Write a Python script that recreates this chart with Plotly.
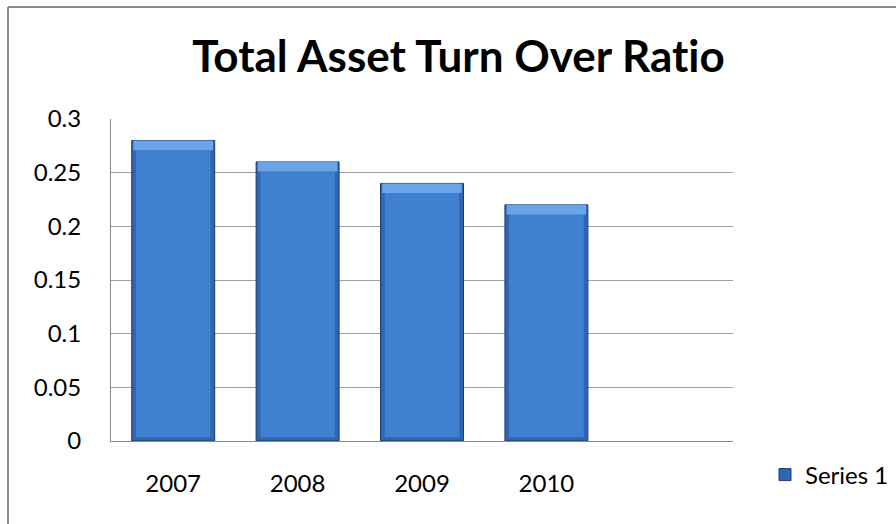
import plotly.graph_objects as go

# Data
years = ["2007", "2008", "2009", "2010"]
ratio = [0.28, 0.26, 0.24, 0.22]
y_ticks = [0, 0.05, 0.1, 0.15, 0.2, 0.25, 0.3]
y_tick_labels = ["0", "0.05", "0.1", "0.15", "0.2", "0.25", "0.3"]

# Layout geometry (pixels)
W, H = 896, 524
L, R, T, B = 111, 733, 119, 441

BEVEL = 0.009   # height of the lighter top facet, in data units
EDGE = 0.0035   # darker rim at the bar base

FONT = "Lato"
LABEL_SIZE = 24

fig = go.Figure()

# Main bar body (darker rim)
fig.add_bar(
    x=years, y=ratio, width=0.667, name="Series 1",
    marker=dict(color="#2F66AD", line=dict(color="#1D3E6E", width=1)),
)
# Lighter inner face
fig.add_bar(
    x=years, y=[v - BEVEL - EDGE for v in ratio], base=EDGE, width=0.6,
    marker=dict(color="#3F80D0", line=dict(width=0)),
    showlegend=False, hoverinfo="skip",
)
# Top bevel highlight
fig.add_bar(
    x=years, y=[BEVEL] * len(ratio), base=[v - BEVEL for v in ratio], width=0.64,
    marker=dict(color="#6CA4E8", line=dict(width=0)),
    showlegend=False, hoverinfo="skip",
)

def px_to_paper_x(px):
    return (px - L) / (R - L)

def px_to_paper_y(py):
    return (B - py) / (B - T)

# zero-width non-joiner keeps "ti" from turning into a ligature
title_text = "<b>Total Asset Turn Over Rat\u200cio</b>"

fig.update_layout(
    width=W, height=H,
    margin=dict(l=L, r=W - R, t=T, b=H - B, pad=0, autoexpand=False),
    paper_bgcolor="white", plot_bgcolor="white",
    barmode="overlay",
    font=dict(family=FONT, size=LABEL_SIZE, color="black"),
    title=dict(
        text=title_text,
        font=dict(family=FONT, size=44, color="black"),
        xref="container", yref="container",
        x=458.5 / W, y=1 - 57 / H, xanchor="center", yanchor="middle",
    ),
    xaxis=dict(
        type="category", range=[-0.5, 4.5],
        showline=True, linecolor="#8A8A8A", linewidth=1,
        showgrid=False, ticks="", ticklabelstandoff=21,
        tickfont=dict(family=FONT, size=LABEL_SIZE, color="black"),
    ),
    yaxis=dict(
        range=[0, 0.3], tickvals=y_ticks, ticktext=y_tick_labels,
        showline=True, linecolor="#8A8A8A", linewidth=1,
        showgrid=True, gridcolor="#A0A0A0", gridwidth=1,
        zeroline=False, ticks="", ticklabelstandoff=24,
        tickfont=dict(family=FONT, size=LABEL_SIZE, color="black"),
    ),
    legend=dict(
        x=px_to_paper_x(765), y=px_to_paper_y(475),
        xanchor="left", yanchor="middle",
        font=dict(family=FONT, size=LABEL_SIZE, color="black"),
        bgcolor="rgba(0,0,0,0)", itemwidth=30,
    ),
    showlegend=True,
)

# Chart frame: top and left edges
frame = dict(type="line", xref="paper", yref="paper",
             line=dict(color="#8C8C8C", width=2))
fig.add_shape(**frame, x0=px_to_paper_x(8), y0=px_to_paper_y(7),
              x1=px_to_paper_x(W), y1=px_to_paper_y(7))
fig.add_shape(**frame, x0=px_to_paper_x(8), y0=px_to_paper_y(7),
              x1=px_to_paper_x(8), y1=px_to_paper_y(H))

fig.write_html("out.html")
